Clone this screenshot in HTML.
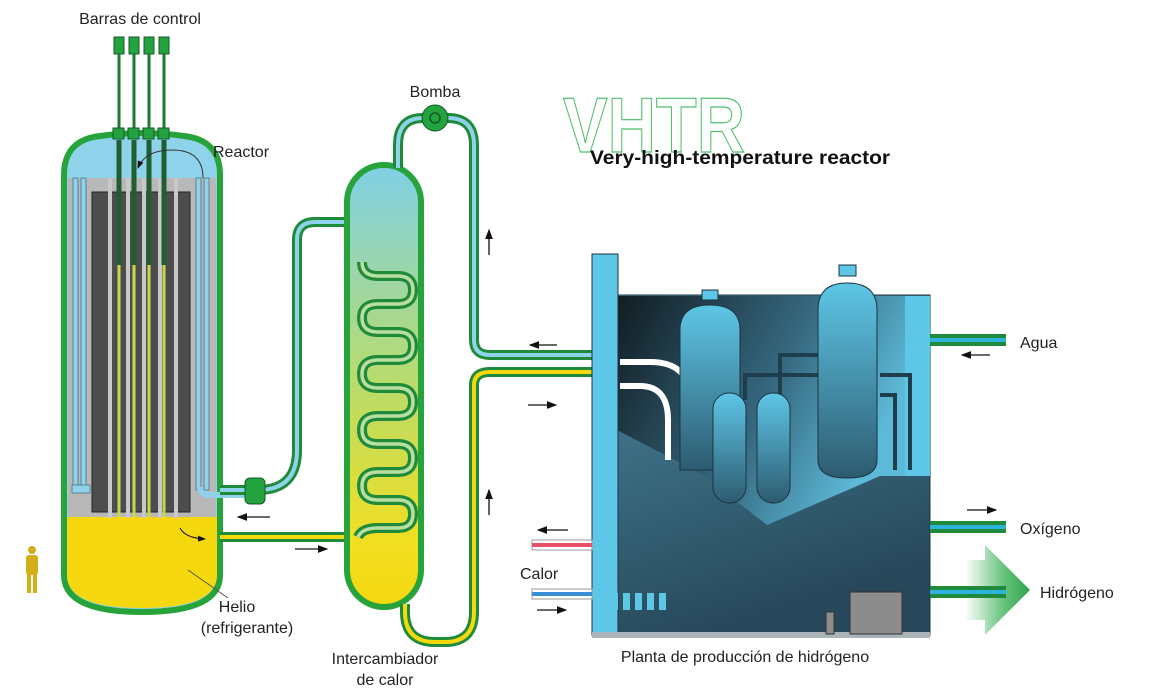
<!DOCTYPE html>
<html><head><meta charset="utf-8">
<style>
html,body{margin:0;padding:0;background:#fff;}
svg{display:block;}
text{font-family:"Liberation Sans",sans-serif;}
</style></head><body>
<svg width="1149" height="695" viewBox="0 0 1149 695" xmlns="http://www.w3.org/2000/svg">
<defs>
<linearGradient id="hx" x1="0" y1="0" x2="0" y2="1">
<stop offset="0" stop-color="#7fd0e6"/><stop offset="0.5" stop-color="#b9dc6a"/><stop offset="0.85" stop-color="#f1de22"/><stop offset="1" stop-color="#f5d80f"/></linearGradient>
<linearGradient id="plant" x1="0" y1="0" x2="0.3" y2="1">
<stop offset="0" stop-color="#4b8aa2"/><stop offset="1" stop-color="#27485a"/></linearGradient>
<linearGradient id="dark" x1="0" y1="0" x2="1" y2="0.4">
<stop offset="0" stop-color="#111c22"/><stop offset="0.6" stop-color="#36687f"/><stop offset="1" stop-color="#5cbad8"/></linearGradient>
<linearGradient id="ves" x1="0" y1="0" x2="0" y2="1">
<stop offset="0" stop-color="#5ec6e6"/><stop offset="1" stop-color="#2d5b70"/></linearGradient>
<linearGradient id="garrow" x1="0" y1="0" x2="1" y2="0">
<stop offset="0" stop-color="#3fb35c" stop-opacity="0"/><stop offset="0.6" stop-color="#3fb35c" stop-opacity="0.8"/><stop offset="1" stop-color="#2da34d"/></linearGradient>
<marker id="ah" markerWidth="8" markerHeight="6" refX="7" refY="3" orient="auto"><path d="M0,0 L8,3 L0,6 z" fill="#111"/></marker>
</defs>

<text x="140" y="24" font-size="16" text-anchor="middle" fill="#222">Barras de control</text>
<g fill="#22a33f" stroke="#145a25" stroke-width="1">
<rect x="114" y="37" width="10" height="17"/><rect x="129" y="37" width="10" height="17"/><rect x="144" y="37" width="10" height="17"/><rect x="159" y="37" width="10" height="17"/>
</g>
<g stroke="#1d7a33" stroke-width="3">
<line x1="119" y1="54" x2="119" y2="130"/><line x1="134" y1="54" x2="134" y2="130"/><line x1="149" y1="54" x2="149" y2="130"/><line x1="164" y1="54" x2="164" y2="130"/>
</g>

<path d="M64,175 Q64,140 100,136 Q142,130 184,136 Q220,140 220,175 L220,575 Q220,612 142,612 Q64,612 64,575 Z" fill="#8fd3ea" stroke="#27a33b" stroke-width="6"/>
<rect x="68" y="178" width="148" height="340" fill="#b8b8b8"/>
<path d="M67,517 L217,517 L217,575 Q217,608 142,608 Q67,608 67,575 Z" fill="#f6d80e"/>
<rect x="92" y="192" width="98" height="320" fill="#4d4d4f" stroke="#222" stroke-width="1"/>
<g fill="#8fd3ea" stroke="#356" stroke-width="0.6">
<rect x="73" y="178" width="5" height="312"/><rect x="81" y="178" width="5" height="312"/>
<rect x="196" y="178" width="5" height="312"/><rect x="204" y="178" width="5" height="312"/>
<rect x="72" y="485" width="18" height="8"/>
</g>
<path d="M200,487 Q200,495 210,495 L245,495" fill="none" stroke="#8fd3ea" stroke-width="6"/>
<g fill="#c8c8c8"><rect x="108" y="178" width="4" height="340"/><rect x="126" y="178" width="4" height="340"/><rect x="142" y="178" width="4" height="340"/><rect x="158" y="178" width="4" height="340"/><rect x="174" y="178" width="4" height="340"/></g>
<g stroke="#1f5e30" stroke-width="5">
<line x1="119" y1="140" x2="119" y2="265"/><line x1="134" y1="140" x2="134" y2="265"/><line x1="149" y1="140" x2="149" y2="265"/><line x1="164" y1="140" x2="164" y2="265"/>
</g>
<g stroke="#c7d94a" stroke-width="3">
<line x1="119" y1="265" x2="119" y2="517"/><line x1="134" y1="265" x2="134" y2="517"/><line x1="149" y1="265" x2="149" y2="517"/><line x1="164" y1="265" x2="164" y2="517"/>
</g>
<g fill="#22a33f" stroke="#145a25" stroke-width="1">
<rect x="113" y="128" width="11" height="11"/><rect x="128" y="128" width="11" height="11"/><rect x="143" y="128" width="11" height="11"/><rect x="158" y="128" width="11" height="11"/>
</g>
<path d="M203,178 Q203,150 172,150 Q145,150 138,168" fill="none" stroke="#333" stroke-width="1" marker-end="url(#ah)"/>
<text x="213" y="157" font-size="16" fill="#222">Reactor</text>
<path d="M180,528 Q185,538 205,539" fill="none" stroke="#111" stroke-width="1" marker-end="url(#ah)"/>

<g fill="#d4ae18"><circle cx="32" cy="550" r="4"/><rect x="26" y="555" width="12" height="20" rx="3"/><rect x="27" y="573" width="4" height="20"/><rect x="33" y="573" width="4" height="20"/></g>

<line x1="188" y1="570" x2="228" y2="598" stroke="#555" stroke-width="1"/>
<text x="237" y="612" font-size="16" text-anchor="middle" fill="#222">Helio</text>
<text x="247" y="633" font-size="16" text-anchor="middle" fill="#222">(refrigerante)</text>

<path d="M258,490 Q297,490 297,450 L297,240 Q297,222 315,222 L400,222 Q415,222 415,236 Q415,250 400,250 L378,250 Q362,250 362,262" fill="none" stroke="#1f8a3a" stroke-width="10"/>
<path d="M258,490 Q297,490 297,450 L297,240 Q297,222 315,222 L400,222 Q415,222 415,236 Q415,250 400,250 L378,250 Q362,250 362,262" fill="none" stroke="#8fd3ea" stroke-width="4"/>
<path d="M220,490 L250,490" stroke="#1f8a3a" stroke-width="10"/><path d="M220,490 L250,490" stroke="#8fd3ea" stroke-width="4"/>
<rect x="245" y="478" width="20" height="26" rx="5" fill="#22a33f" stroke="#145a25"/>
<path d="M220,537 L360,537" stroke="#1f8a3a" stroke-width="10"/><path d="M220,537 L360,537" stroke="#f6d80e" stroke-width="4"/>

<rect x="347" y="165" width="74" height="442" rx="37" fill="url(#hx)" stroke="#27a33b" stroke-width="6"/>
<path d="M362,262 Q362,276 378,276 L398,276 Q413,276 413,290 Q413,304 398,304 L378,304 Q362,304 362,318 Q362,332 378,332 L398,332 Q413,332 413,346 Q413,360 398,360 L378,360 Q362,360 362,374 Q362,388 378,388 L398,388 Q413,388 413,402 Q413,416 398,416 L378,416 Q362,416 362,430 Q362,444 378,444 L398,444 Q413,444 413,458 Q413,472 398,472 L378,472 Q362,472 362,486 Q362,500 378,500 L398,500 Q413,500 413,514 Q413,528 398,528 L378,528 Q362,528 358,537" fill="none" stroke="#1f8a3a" stroke-width="10"/>
<path d="M362,262 Q362,276 378,276 L398,276 Q413,276 413,290 Q413,304 398,304 L378,304 Q362,304 362,318 Q362,332 378,332 L398,332 Q413,332 413,346 Q413,360 398,360 L378,360 Q362,360 362,374 Q362,388 378,388 L398,388 Q413,388 413,402 Q413,416 398,416 L378,416 Q362,416 362,430 Q362,444 378,444 L398,444 Q413,444 413,458 Q413,472 398,472 L378,472 Q362,472 362,486 Q362,500 378,500 L398,500 Q413,500 413,514 Q413,528 398,528 L378,528 Q362,528 358,537" fill="none" stroke="#b9dfa0" stroke-width="3.5"/>

<path d="M398,168 L398,145 Q398,118 423,118 L448,118 Q474,118 474,145 L474,340 Q474,355 490,355 L592,355" fill="none" stroke="#1f8a3a" stroke-width="10"/>
<path d="M398,168 L398,145 Q398,118 423,118 L448,118 Q474,118 474,145 L474,340 Q474,355 490,355 L592,355" fill="none" stroke="#8fd3ea" stroke-width="4"/>
<path d="M405,604 L405,612 Q405,642 435,642 L445,642 Q474,642 474,612 L474,385 Q474,372 490,372 L592,372" fill="none" stroke="#1f8a3a" stroke-width="10"/>
<path d="M405,604 L405,612 Q405,642 435,642 L445,642 Q474,642 474,612 L474,385 Q474,372 490,372 L592,372" fill="none" stroke="#f6d80e" stroke-width="4"/>
<circle cx="435" cy="118" r="13" fill="#22a33f" stroke="#145a25"/><circle cx="435" cy="118" r="5" fill="none" stroke="#145a25" stroke-width="1.5"/>
<text x="435" y="97" font-size="16" text-anchor="middle" fill="#222">Bomba</text>
<text x="385" y="664" font-size="16" text-anchor="middle" fill="#222">Intercambiador</text>
<text x="385" y="685" font-size="16" text-anchor="middle" fill="#222">de calor</text>

<g stroke="#111" stroke-width="1.3" fill="none">
<line x1="489" y1="255" x2="489" y2="230" marker-end="url(#ah)"/>
<line x1="489" y1="515" x2="489" y2="490" marker-end="url(#ah)"/>
<line x1="557" y1="345" x2="530" y2="345" marker-end="url(#ah)"/>
<line x1="528" y1="405" x2="556" y2="405" marker-end="url(#ah)"/>
<line x1="270" y1="517" x2="238" y2="517" marker-end="url(#ah)"/>
<line x1="295" y1="549" x2="327" y2="549" marker-end="url(#ah)"/>
<line x1="568" y1="530" x2="538" y2="530" marker-end="url(#ah)"/>
<line x1="537" y1="610" x2="566" y2="610" marker-end="url(#ah)"/>
<line x1="990" y1="355" x2="962" y2="355" marker-end="url(#ah)"/>
<line x1="967" y1="510" x2="996" y2="510" marker-end="url(#ah)"/>
</g>

<text x="563" y="152" font-size="78" font-weight="bold" fill="none" stroke="#4fbf6c" stroke-width="1.2" textLength="182" lengthAdjust="spacingAndGlyphs">VHTR</text>
<text x="590" y="164" font-size="19" font-weight="bold" fill="#111" textLength="300" lengthAdjust="spacingAndGlyphs">Very-high-temperature reactor</text>

<rect x="616" y="295" width="314" height="340" fill="url(#plant)" stroke="#1c3340"/>
<path d="M617,296 L905,296 L905,476 L880,476 L767,525 L700,473 L617,430 Z" fill="url(#dark)"/>
<rect x="905" y="296" width="25" height="180" fill="#5ec6e6"/>
<path d="M620,362 L650,362 Q690,362 690,400 L690,470" fill="none" stroke="#fff" stroke-width="6"/>
<path d="M620,386 L640,386 Q668,386 668,420 L668,460" fill="none" stroke="#fff" stroke-width="6"/>
<g fill="none" stroke="#1e3e4e" stroke-width="4">
<path d="M745,400 L745,375 L830,375"/><path d="M780,395 L780,355 L830,355"/><path d="M880,375 L910,375 L910,470"/><path d="M880,395 L895,395 L895,470"/>
</g>
<path d="M680,330 Q680,305 710,305 Q740,305 740,330 L740,470 L680,470 Z" fill="url(#ves)" stroke="#1c3340"/>
<rect x="702" y="290" width="16" height="10" fill="#5ec6e6" stroke="#1c3340"/>
<path d="M818,310 Q818,283 847,283 Q877,283 877,310 L877,460 Q877,478 847,478 Q818,478 818,460 Z" fill="url(#ves)" stroke="#1c3340"/>
<rect x="839" y="265" width="17" height="11" fill="#5ec6e6" stroke="#1c3340"/>
<rect x="713" y="393" width="33" height="110" rx="16" fill="url(#ves)" stroke="#1c3340"/>
<rect x="757" y="393" width="33" height="110" rx="16" fill="url(#ves)" stroke="#1c3340"/>
<rect x="592" y="254" width="26" height="381" fill="#5ec6e6" stroke="#1c3340"/>
<rect x="592" y="632" width="338" height="6" fill="#aab4b8"/>
<g fill="#5ec6e6"><rect x="611" y="593" width="7" height="17"/><rect x="623" y="593" width="7" height="17"/><rect x="635" y="593" width="7" height="17"/><rect x="647" y="593" width="7" height="17"/><rect x="659" y="593" width="7" height="17"/></g>
<rect x="850" y="592" width="52" height="42" fill="#8c8c8c" stroke="#333"/>
<rect x="826" y="612" width="8" height="22" fill="#8c8c8c" stroke="#333"/>
<text x="745" y="662" font-size="16" text-anchor="middle" fill="#222">Planta de producción de hidrógeno</text>

<rect x="532" y="540" width="60" height="10" fill="#fff" stroke="#999"/><rect x="532" y="543" width="60" height="4" fill="#e8506a"/>
<rect x="532" y="589" width="60" height="10" fill="#fff" stroke="#999"/><rect x="532" y="592" width="60" height="4" fill="#3b8ed6"/>
<text x="520" y="579" font-size="16" fill="#222">Calor</text>

<polygon points="965,560 985,560 985,545 1030,590 985,635 985,620 965,620" fill="url(#garrow)"/>
<g><rect x="930" y="334" width="76" height="12" fill="#1f8a3a"/><rect x="930" y="338" width="76" height="4" fill="#2eb3dc"/>
<rect x="930" y="521" width="76" height="12" fill="#1f8a3a"/><rect x="930" y="525" width="76" height="4" fill="#2eb3dc"/>
<rect x="930" y="586" width="76" height="12" fill="#1f8a3a"/><rect x="930" y="590" width="76" height="4" fill="#2eb3dc"/></g>
<text x="1020" y="348" font-size="16" fill="#222">Agua</text>
<text x="1020" y="534" font-size="16" fill="#222">Oxígeno</text>
<text x="1040" y="598" font-size="16" fill="#222">Hidrógeno</text>
</svg>
</body></html>
